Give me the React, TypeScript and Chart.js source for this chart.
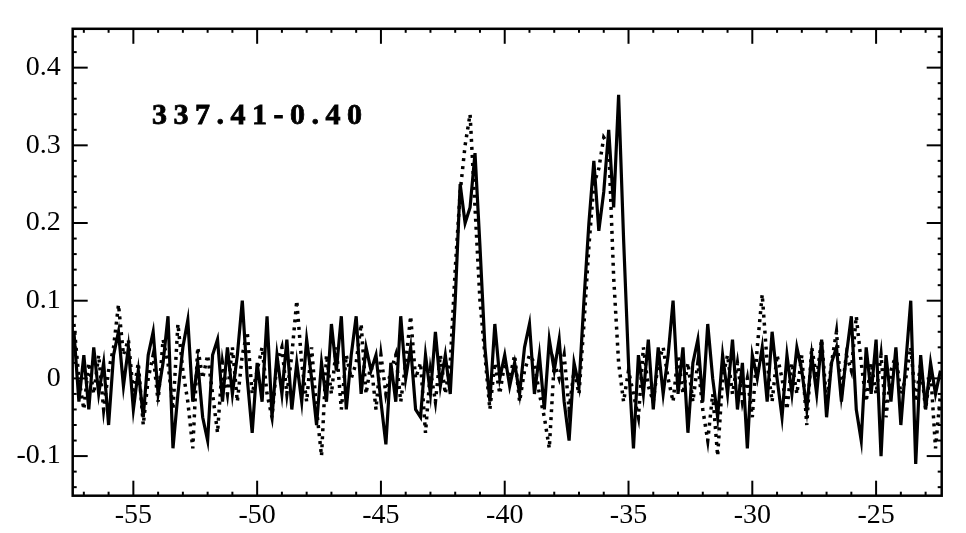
import { useEffect, useRef } from "react";
import { Chart, registerables } from "chart.js";

Chart.register(...registerables);

// Velocity channels (km/s)
const velocity = [
  -57.4, -57.2, -57.0, -56.8, -56.6, -56.4, -56.2, -56.0, -55.8, -55.6,
  -55.4, -55.2, -55.0, -54.8, -54.6, -54.4, -54.2, -54.0, -53.8, -53.6,
  -53.4, -53.2, -53.0, -52.8, -52.6, -52.4, -52.2, -52.0, -51.8, -51.6,
  -51.4, -51.2, -51.0, -50.8, -50.6, -50.4, -50.2, -50.0, -49.8, -49.6,
  -49.4, -49.2, -49.0, -48.8, -48.6, -48.4, -48.2, -48.0, -47.8, -47.6,
  -47.4, -47.2, -47.0, -46.8, -46.6, -46.4, -46.2, -46.0, -45.8, -45.6,
  -45.4, -45.2, -45.0, -44.8, -44.6, -44.4, -44.2, -44.0, -43.8, -43.6,
  -43.4, -43.2, -43.0, -42.8, -42.6, -42.4, -42.2, -42.0, -41.8, -41.6,
  -41.4, -41.2, -41.0, -40.8, -40.6, -40.4, -40.2, -40.0, -39.8, -39.6,
  -39.4, -39.2, -39.0, -38.8, -38.6, -38.4, -38.2, -38.0, -37.8, -37.6,
  -37.4, -37.2, -37.0, -36.8, -36.6, -36.4, -36.2, -36.0, -35.8, -35.6,
  -35.4, -35.2, -35.0, -34.8, -34.6, -34.4, -34.2, -34.0, -33.8, -33.6,
  -33.4, -33.2, -33.0, -32.8, -32.6, -32.4, -32.2, -32.0, -31.8, -31.6,
  -31.4, -31.2, -31.0, -30.8, -30.6, -30.4, -30.2, -30.0, -29.8, -29.6,
  -29.4, -29.2, -29.0, -28.8, -28.6, -28.4, -28.2, -28.0, -27.8, -27.6,
  -27.4, -27.2, -27.0, -26.8, -26.6, -26.4, -26.2, -26.0, -25.8, -25.6,
  -25.4, -25.2, -25.0, -24.8, -24.6, -24.4, -24.2, -24.0, -23.8, -23.6,
  -23.4, -23.2, -23.0, -22.8, -22.6, -22.4,
];

// Solid spectrum
const solidSpectrum = [
  0.06, -0.03, 0.03, -0.04, 0.04, -0.02, 0.02, -0.06, 0.03, 0.06,
  -0.01, 0.04, -0.04, 0.01, -0.05, 0.03, 0.06, -0.02, 0.02, 0.08,
  -0.09, -0.02, 0.04, 0.075, -0.03, 0.02, -0.05, -0.08, 0.03, 0.05,
  -0.03, 0.04, -0.02, 0.03, 0.1, 0.0, -0.07, 0.02, -0.03, 0.08,
  -0.05, 0.03, -0.02, 0.05, -0.04, 0.02, -0.03, 0.05, 0.0, -0.06,
  0.02, -0.03, 0.07, 0.01, 0.08, -0.04, 0.03, 0.08, -0.02, 0.04,
  0.01, 0.03, -0.03, -0.085, 0.02, -0.03, 0.08, 0.0, 0.04, -0.04,
  -0.05, 0.03, -0.02, 0.06, -0.01, 0.03, -0.02, 0.1, 0.25, 0.2,
  0.22, 0.29, 0.17, 0.04, -0.03, 0.07, 0.0, 0.03, -0.01, 0.02,
  -0.02, 0.04, 0.07, -0.02, 0.03, -0.04, 0.05, 0.01, 0.05, -0.03,
  -0.08, 0.02, -0.01, 0.1, 0.2, 0.28, 0.19, 0.24, 0.32, 0.22,
  0.365, 0.18, 0.02, -0.09, 0.03, -0.02, 0.05, -0.04, 0.04, -0.02,
  0.03, 0.1, -0.02, 0.04, -0.07, 0.02, 0.05, -0.03, 0.07, 0.0,
  -0.05, 0.03, -0.02, 0.05, -0.04, 0.02, -0.09, 0.03, 0.0, 0.04,
  -0.03, 0.06, 0.0, -0.05, 0.03, -0.02, 0.04, 0.01, -0.04, 0.03,
  -0.02, 0.05, -0.05, 0.02, 0.04, -0.03, 0.03, 0.08, -0.04, -0.08,
  0.04, -0.02, 0.05, -0.1, 0.03, -0.03, 0.04, -0.06, 0.02, 0.1,
  -0.11, 0.03, -0.04, 0.02, -0.02, 0.01,
];

// Dotted spectrum
const dottedSpectrum = [
  0.07, 0.0, -0.04, 0.02, -0.02, 0.03, -0.04, 0.01, 0.04, 0.095,
  0.03, 0.05, -0.02, 0.02, -0.06, 0.0, 0.03, -0.03, 0.05, 0.02,
  -0.04, 0.07, 0.01, -0.03, -0.09, 0.04, 0.0, 0.03, -0.02, -0.07,
  0.02, -0.02, 0.04, -0.03, 0.03, 0.06, -0.02, 0.01, 0.04, -0.02,
  -0.05, 0.02, 0.04, -0.02, 0.03, 0.1, 0.02, -0.03, 0.04, -0.04,
  -0.1, 0.03, -0.02, 0.04, -0.04, 0.03, 0.0, 0.02, 0.07, -0.02,
  0.02, -0.04, 0.03, -0.02, 0.01, 0.03, -0.03, 0.02, 0.08, 0.0,
  0.02, -0.07, 0.01, -0.03, 0.03, -0.02, 0.02, 0.14, 0.24, 0.3,
  0.34, 0.22, 0.1, 0.03, -0.04, 0.02, -0.02, 0.02, 0.0, 0.03,
  -0.03, 0.01, 0.03, 0.02, -0.02, -0.05, -0.09, 0.02, 0.0, 0.03,
  -0.04, 0.01, -0.02, 0.07, 0.17, 0.25, 0.27, 0.31, 0.3, 0.13,
  0.02, -0.03, 0.01, -0.02, -0.05, 0.04, -0.01, -0.03, 0.02, 0.04,
  0.0, -0.03, 0.03, -0.02, 0.02, -0.03, 0.02, -0.04, -0.08, -0.02,
  -0.1, 0.0, 0.03, -0.02, 0.02, -0.03, 0.0, -0.05, 0.04, 0.108,
  0.02, -0.03, 0.03, 0.0, -0.04, 0.02, -0.02, 0.03, -0.06, 0.04,
  0.0, 0.05, -0.03, 0.02, 0.06, -0.02, 0.03, 0.01, 0.08, 0.02,
  -0.03, 0.02, -0.02, 0.03, -0.05, 0.01, 0.03, -0.02, 0.0, 0.04,
  -0.03, 0.02, -0.04, 0.01, -0.09, -0.02,
];

const xTickValues = [-55, -50, -45, -40, -35, -30, -25];
const yTickValues = [-0.1, 0, 0.1, 0.2, 0.3, 0.4];
const xRange = [-57.45, -22.35];
const yRange = [-0.151, 0.45];
const xMinorStep = 1;
const yMinorStep = 0.02;

const sourceLabel = "337.41-0.40";
const labelVelocity = -54.25;
const labelIntensity = 0.327;

const SERIF = "'Liberation Serif', 'DejaVu Serif', serif";

const frameTicksPlugin = {
  id: "frameTicks",
  afterDraw(chart: any) {
    const { ctx, chartArea: a, scales } = chart;
    const xs = scales.x;
    const ys = scales.y;
    ctx.save();
    ctx.strokeStyle = "#000";
    ctx.lineCap = "butt";
    const seg = (x1: number, y1: number, x2: number, y2: number) => {
      ctx.beginPath();
      ctx.moveTo(x1, y1);
      ctx.lineTo(x2, y2);
      ctx.stroke();
    };
    ctx.lineWidth = 2;
    const xStart = Math.ceil(xRange[0] / xMinorStep);
    const xEnd = Math.floor(xRange[1] / xMinorStep);
    for (let k = xStart; k <= xEnd; k++) {
      const v = k * xMinorStep;
      const px = xs.getPixelForValue(v);
      const major = xTickValues.some((t) => Math.abs(t - v) < 1e-6);
      const len = major ? 15 : 4;
      seg(px, a.bottom, px, a.bottom - len);
      seg(px, a.top, px, a.top + len);
    }
    const yStart = Math.ceil(yRange[0] / yMinorStep - 1e-9);
    const yEnd = Math.floor(yRange[1] / yMinorStep + 1e-9);
    for (let k = yStart; k <= yEnd; k++) {
      const v = k * yMinorStep;
      const py = ys.getPixelForValue(v);
      const major = yTickValues.some((t) => Math.abs(t - v) < 1e-6);
      const len = major ? 15 : 4;
      seg(a.left, py, a.left + len, py);
      seg(a.right, py, a.right - len, py);
    }
    ctx.lineWidth = 2.5;
    ctx.strokeRect(a.left, a.top, a.right - a.left, a.bottom - a.top);

    // source label
    ctx.fillStyle = "#000";
    ctx.font = `bold 30px ${SERIF}`;
    ctx.textBaseline = "alphabetic";
    ctx.textAlign = "left";
    let x = xs.getPixelForValue(labelVelocity);
    const y = ys.getPixelForValue(labelIntensity);
    for (const ch of sourceLabel) {
      ctx.fillText(ch, x, y);
      ctx.strokeStyle = "#000";
      ctx.lineWidth = 0.8;
      ctx.strokeText(ch, x, y);
      x += ctx.measureText(ch).width + 6.5;
    }
    ctx.restore();
  },
};

export default function App() {
  const canvasRef = useRef<HTMLCanvasElement | null>(null);

  useEffect(() => {
    const canvas = canvasRef.current;
    if (!canvas) return;
    const chart = new Chart(canvas, {
      type: "line",
      data: {
        datasets: [
          {
            label: "solid",
            data: velocity.map((v, i) => ({ x: v, y: solidSpectrum[i] })),
            borderColor: "#000",
            borderWidth: 3.2,
            pointRadius: 0,
            tension: 0,
          },
          {
            label: "dotted",
            data: velocity.map((v, i) => ({ x: v, y: dottedSpectrum[i] })),
            borderColor: "#000",
            borderWidth: 3.5,
            borderDash: [3, 5],
            pointRadius: 0,
            tension: 0,
          },
        ],
      },
      options: {
        responsive: false,
        animation: false,
        events: [],
        layout: { padding: { left: 0, right: 24.3, top: 26.7, bottom: 0 } },
        plugins: {
          legend: { display: false },
          tooltip: { enabled: false },
          title: { display: false },
        },
        scales: {
          x: {
            type: "linear",
            min: xRange[0],
            max: xRange[1],
            grid: { display: false, drawTicks: false },
            border: { display: false },
            afterBuildTicks: (scale: any) => {
              scale.ticks = xTickValues.map((v) => ({ value: v }));
            },
            afterFit: (scale: any) => {
              scale.height = 37.3;
            },
            ticks: {
              color: "#000",
              padding: 3,
              maxRotation: 0,
              font: { family: SERIF, size: 28 },
              callback: (v: any) => String(v),
            },
          },
          y: {
            type: "linear",
            min: yRange[0],
            max: yRange[1],
            grid: { display: false, drawTicks: false },
            border: { display: false },
            afterBuildTicks: (scale: any) => {
              scale.ticks = yTickValues.map((v) => ({ value: v }));
            },
            afterFit: (scale: any) => {
              scale.width = 72.7;
            },
            ticks: {
              color: "#000",
              padding: 12,
              font: { family: SERIF, size: 28 },
              callback: (v: any) => (Math.abs(v) < 1e-9 ? "0" : Number(v).toFixed(1)),
            },
          },
        },
      },
      plugins: [frameTicksPlugin],
    });
    return () => chart.destroy();
  }, []);

  return (
    <div
      style={{
        position: "fixed",
        left: 0,
        top: 0,
        width: 966,
        height: 533,
        background: "#fff",
      }}
    >
      <canvas ref={canvasRef} width={966} height={533} />
    </div>
  );
}
